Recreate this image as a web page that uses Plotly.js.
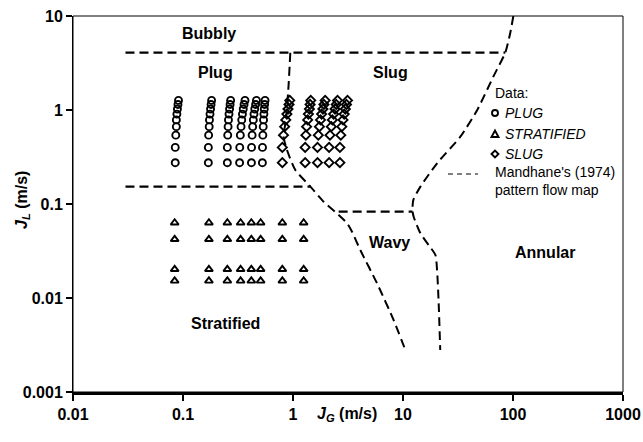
<!DOCTYPE html>
<html><head><meta charset="utf-8">
<script src="https://cdn.plot.ly/plotly-3.0.1.min.js"></script>
<style>body{margin:0;background:#fff}#chart{width:643px;height:442px}</style>
</head><body><div id="chart"></div>
<script>
// ---- data ----
const plugJL = [0.275, 0.40, 0.54, 0.665, 0.785, 0.905, 1.025, 1.145, 1.265];
const plugJG = [
  [0.085, 0.085, 0.086, 0.087, 0.087, 0.088, 0.089, 0.090, 0.091],
  [0.170, 0.170, 0.171, 0.173, 0.174, 0.176, 0.178, 0.180, 0.182],
  [0.253, 0.253, 0.255, 0.257, 0.259, 0.262, 0.265, 0.268, 0.271],
  [0.327, 0.328, 0.332, 0.337, 0.342, 0.347, 0.353, 0.359, 0.366],
  [0.419, 0.420, 0.425, 0.430, 0.436, 0.442, 0.449, 0.457, 0.465],
  [0.527, 0.528, 0.532, 0.536, 0.540, 0.544, 0.548, 0.552, 0.557]
];
const slugJL = [0.275, 0.40, 0.54, 0.665, 0.785, 0.905, 1.025, 1.145, 1.265];
const slugJG = [
  [0.80, 0.80, 0.82, 0.84, 0.86, 0.88, 0.90, 0.92, 0.935],
  [1.29, 1.29, 1.31, 1.33, 1.36, 1.38, 1.41, 1.43, 1.45],
  [1.67, 1.67, 1.70, 1.74, 1.78, 1.82, 1.87, 1.91, 1.96],
  [2.13, 2.13, 2.17, 2.23, 2.28, 2.34, 2.41, 2.47, 2.54],
  [2.67, 2.67, 2.72, 2.78, 2.85, 2.92, 2.99, 3.06, 3.13]
];
const stratJL = [0.0152, 0.0202, 0.0421, 0.0632];
const stratJG = [0.084, 0.172, 0.253, 0.334, 0.418, 0.508, 0.80, 1.25];

// Mandhane (1974) boundaries
const bubblyLineJG = [0.03, 85];
const bubblyLineJL = [4.07, 4.07];
const plugStratJG = [0.03, 1.44];
const plugStratJL = [0.153, 0.153];
const slugWavyJG = [2.6, 12.2];
const slugWavyJL = [0.083, 0.083];
const leftCurveJG = [0.945, 0.906, 0.861, 0.822, 0.882, 1.05, 1.44, 1.90, 2.60, 3.10, 3.44, 4.09, 5.81, 8.22, 10.5];
const leftCurveJL = [4.07, 1.63, 0.783, 0.52, 0.375, 0.230, 0.153, 0.1057, 0.0764, 0.0624, 0.0507, 0.0324, 0.0143, 0.00583, 0.0028];
const rightCurveJG = [100.7, 94.4, 85, 66.2, 47.3, 33.2, 20.5, 14.4, 12.4, 12.2, 12.5, 14.4, 17.1, 19.7, 20.4, 21.1, 21.8];
const rightCurveJL = [10, 6.6, 4.07, 2.26, 1.0, 0.52, 0.273, 0.153, 0.110, 0.0849, 0.0733, 0.0488, 0.0366, 0.0287, 0.0199, 0.00885, 0.0028];

const xTickVals = [0.01, 0.1, 1, 10, 100, 1000];
const xTickText = ['0.01', '0.1', '1', '10', '100', '1000'];
const yTickVals = [0.001, 0.01, 0.1, 1, 10];
const yTickText = ['0.001', '0.01', '0.1', '1', '10'];

const regionLabels = ['Bubbly', 'Plug', 'Slug', 'Wavy', 'Annular', 'Stratified'];

// ---- build ----
function flatten(cols, ys) {
  const x = [], y = [];
  cols.forEach(c => c.forEach((v, i) => { x.push(v); y.push(ys[i]); }));
  return {x, y};
}
const plug = flatten(plugJG, plugJL);
const slug = flatten(slugJG, slugJL);
const strat = {x: [], y: []};
stratJL.forEach(j => stratJG.forEach(g => { strat.x.push(g); strat.y.push(j); }));

const FONT = 'Liberation Sans, Arial, Helvetica, sans-serif';
const mk = (sym) => ({symbol: sym, size: 7, color: '#000', line: {color: '#000', width: 1.9}});
const dashLine = {color: '#000', width: 2.3, dash: '9px,5px'};

const traces = [
  {x: plug.x, y: plug.y, mode: 'markers', type: 'scatter', marker: mk('circle-open'), showlegend: false},
  {x: strat.x, y: strat.y, mode: 'markers', type: 'scatter', marker: mk('triangle-up-open'), showlegend: false},
  {x: slug.x, y: slug.y, mode: 'markers', type: 'scatter', marker: mk('diamond-open'), showlegend: false},
  {x: bubblyLineJG, y: bubblyLineJL, mode: 'lines', line: dashLine, showlegend: false},
  {x: plugStratJG, y: plugStratJL, mode: 'lines', line: dashLine, showlegend: false},
  {x: slugWavyJG, y: slugWavyJL, mode: 'lines', line: dashLine, showlegend: false},
  {x: leftCurveJG, y: leftCurveJL, mode: 'lines', line: Object.assign({}, dashLine, {width: 2, shape: 'spline', smoothing: 0.6}), showlegend: false},
  {x: rightCurveJG, y: rightCurveJL, mode: 'lines', line: Object.assign({}, dashLine, {width: 2, shape: 'spline', smoothing: 0.6}), showlegend: false}
];

const L = 73, R = 20, T = 16, B = 50, W = 643, H = 442;
const pw = W - L - R, ph = H - T - B;
const xp = px => (px - L) / pw;
const yp = py => (H - B - py) / ph;

const regionPos = [[209, 34], [215, 73], [390, 73], [389, 242], [545, 252], [225, 323]];
const annotations = regionLabels.map((t, i) => ({
  text: '<b>' + t + '</b>', xref: 'paper', yref: 'paper', x: xp(regionPos[i][0]), y: yp(regionPos[i][1]),
  showarrow: false, xanchor: 'center', yanchor: 'middle', font: {family: FONT, size: 16, color: '#000'}
}));
// axis titles
annotations.push({text: '<b><i>J</i><sub><i>G</i></sub> (m/s)</b>', xref: 'paper', yref: 'paper',
  x: xp(347), y: yp(414), showarrow: false, xanchor: 'center', yanchor: 'middle', font: {family: FONT, size: 16, color: '#000'}});
annotations.push({text: '<b><i>J</i><sub><i>L</i></sub> (m/s)</b>', xref: 'paper', yref: 'paper',
  x: xp(22), y: yp(200), showarrow: false, textangle: -90, xanchor: 'center', yanchor: 'middle', font: {family: FONT, size: 16, color: '#000'}});
// legend texts
const legFont = {family: FONT, size: 14, color: '#000'};
const legTexts = [['Data:', 493, 93], ['<i>PLUG</i>', 503, 113], ['<i>STRATIFIED</i>', 503, 134], ['<i>SLUG</i>', 503, 154],
  ["Mandhane's (1974)<br>pattern flow map", 493, 181]];
legTexts.forEach(t => annotations.push({text: t[0], xref: 'paper', yref: 'paper', x: xp(t[1]), y: yp(t[2]),
  showarrow: false, xanchor: 'left', yanchor: 'middle', align: 'left', font: legFont}));

const iconLine = {color: '#000', width: 1.9};
const shapes = [
  {type: 'rect', xref: 'paper', yref: 'paper', x0: 0, x1: 1, y0: 0, y1: 1, line: {color: '#000', width: 1}, layer: 'below'},
  {type: 'circle', xref: 'paper', yref: 'paper', xsizemode: 'pixel', ysizemode: 'pixel', xanchor: xp(495), yanchor: yp(113),
    x0: -3, x1: 3, y0: -3, y1: 3, line: iconLine},
  {type: 'path', xref: 'paper', yref: 'paper', xsizemode: 'pixel', ysizemode: 'pixel', xanchor: xp(495), yanchor: yp(134),
    path: 'M -3.5 -3 L 3.5 -3 L 0 3.5 Z', line: iconLine},
  {type: 'path', xref: 'paper', yref: 'paper', xsizemode: 'pixel', ysizemode: 'pixel', xanchor: xp(495), yanchor: yp(154),
    path: 'M -3.5 0 L 0 3.5 L 3.5 0 L 0 -3.5 Z', line: iconLine},
  {type: 'line', xref: 'paper', yref: 'paper', x0: xp(448), x1: xp(478), y0: yp(174), y1: yp(174),
    line: {color: '#000', width: 1, dash: '5px,4px'}}
];

const axisCommon = {
  type: 'log', showgrid: false, zeroline: false, showline: true, linecolor: '#000',
  ticks: 'outside', ticklen: 6, tickwidth: 1.5, tickcolor: '#000',
  tickfont: {family: FONT, size: 16, color: '#000', weight: 'bold'}
};
const layout = {
  width: W, height: H, margin: {l: L, r: R, t: T, b: B, pad: 0},
  paper_bgcolor: '#fff', plot_bgcolor: '#fff', showlegend: false,
  xaxis: Object.assign({}, axisCommon, {range: [-2, 3], tickvals: xTickVals, ticktext: xTickText, linewidth: 2.5}),
  yaxis: Object.assign({}, axisCommon, {range: [-3, 1], tickvals: yTickVals, ticktext: yTickText, linewidth: 1}),
  annotations: annotations, shapes: shapes
};
Plotly.newPlot('chart', traces, layout, {displayModeBar: false, staticPlot: true});
</script></body></html>
